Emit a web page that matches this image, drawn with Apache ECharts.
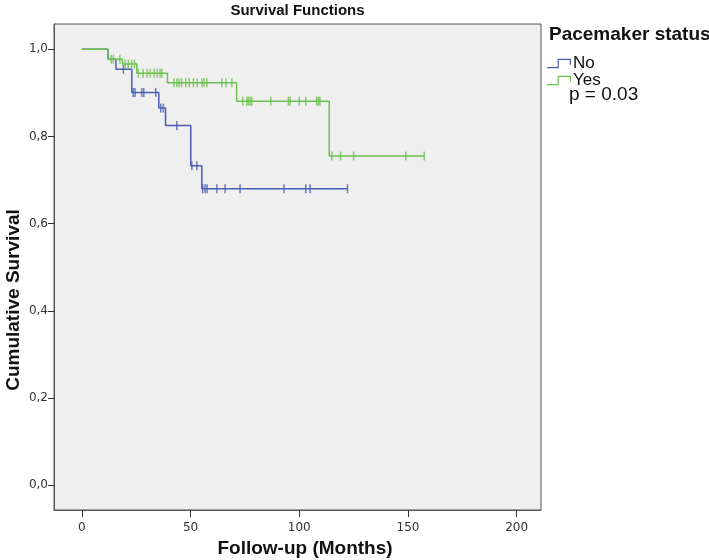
<!DOCTYPE html>
<html><head><meta charset="utf-8">
<script src="https://cdn.jsdelivr.net/npm/echarts@6/dist/echarts.min.js"></script>
<style>html,body{margin:0;padding:0;background:#fff}#c{width:709px;height:560px}</style>
</head><body><div id="c"></div>
<script>
// ---- data ----
const xTicks = [0, 50, 100, 150, 200];
const yTicks = [0, 0.2, 0.4, 0.6, 0.8, 1.0];

// Pacemaker status = No (blue)
const noEventTimes = [0, 12.0, 15.7, 23.0, 35.4, 38.5, 50.1, 55.2];
const noSurvival   = [1, 0.977, 0.954, 0.901, 0.865, 0.825, 0.733, 0.680];
const noCensored   = [19.1, 23.6, 24.5, 27.6, 28.5, 34.0, 36.3, 37.5, 43.7, 50.6, 52.9, 55.6, 56.7, 57.6, 62.1, 65.9, 72.8, 93.0, 103.0, 105.0, 122.2];
const noLastTime   = 122.2;

// Pacemaker status = Yes (green)
const yesEventTimes = [0, 12.0, 18.7, 25.3, 39.4, 71.2, 113.8];
const yesSurvival   = [1, 0.977, 0.966, 0.945, 0.923, 0.881, 0.755];
const yesCensored   = [13.5, 14.5, 17.5, 19.9, 21.4, 22.9, 24.2, 26.0, 28.2, 30.0, 31.4, 33.2, 34.6, 36.0, 36.8,
                       42.4, 43.7, 44.7, 45.9, 47.8, 49.4, 51.3, 53.1, 55.2, 56.2, 57.5, 64.4, 66.3, 69.0,
                       74.0, 75.9, 76.6, 77.4, 78.2, 86.9, 95.0, 95.8, 100.0, 103.0, 108.0, 108.8, 109.5,
                       115.0, 119.0, 125.0, 149.0, 157.5];
const yesLastTime   = 157.5;

const groupNames = ['No', 'Yes'];
const pText = 'p = 0.03';

// ---- helpers ----
function stepData(times, surv, last) {
  const d = times.map((t, i) => [t, surv[i]]);
  d.push([last, surv[surv.length - 1]]);
  return d;
}
function survAt(times, surv, t) {
  let s = surv[0];
  for (let i = 0; i < times.length; i++) if (times[i] <= t) s = surv[i];
  return s;
}
function censorData(times, surv, cens) {
  return cens.map(t => [t, survAt(times, surv, t)]);
}

const BLUE = '#4a5cb3';
const GREEN = '#6cc04e';
const FONT = '"Liberation Sans", Arial, sans-serif';
const TICKFONT = '"DejaVu Sans", sans-serif';
const legendIcon = 'path://M0,8.4 L10.6,8.4 L10.6,0 L24,0 L24,6 L22.8,6 L22.8,1.2 L11.8,1.2 L11.8,9.6 L0,9.6 Z';
const legendBase = {
  orient: 'vertical', left: 542, itemWidth: 24, itemHeight: 10,
  textStyle: {fontFamily: FONT, fontSize: 17, color: '#111', padding: [0, 0, 0, -3]},
  selectedMode: false
};

const chart = echarts.init(document.getElementById('c'), null, {renderer: 'canvas'});
chart.setOption({
  backgroundColor: '#ffffff',
  animation: false,
  grid: {left: 54, right: 168, top: 24, bottom: 50, show: true,
         backgroundColor: '#efefef', borderColor: '#555', borderWidth: 1},
  xAxis: {
    type: 'value', min: -12.8, max: 211.2,
    axisLine: {show: true, onZero: false, lineStyle: {color: '#555', width: 1}},
    axisTick: {show: true, customValues: xTicks, length: 7, lineStyle: {color: '#333'}},
    axisLabel: {customValues: xTicks, fontFamily: TICKFONT, fontSize: 12, color: '#333', margin: 12},
    splitLine: {show: false}
  },
  yAxis: {
    type: 'value', min: -0.057, max: 1.058,
    axisLine: {show: true, onZero: false, lineStyle: {color: '#555', width: 1}},
    axisTick: {show: true, customValues: yTicks, length: 6, lineStyle: {color: '#333'}},
    axisLabel: {customValues: yTicks, fontFamily: TICKFONT, fontSize: 12, color: '#333', margin: 6,
                formatter: v => v.toFixed(1).replace('.', ',')},
    splitLine: {show: false}
  },
  legend: [
    Object.assign({}, legendBase, {data: [{name: groupNames[0], icon: legendIcon}], top: 50}),
    Object.assign({}, legendBase, {data: [{name: groupNames[1], icon: legendIcon}], top: 67})
  ],
  graphic: [
    {type: 'text', x: 297.5, y: 11, style: {text: 'Survival Functions', font: 'bold 15px ' + FONT, fill: '#111', textAlign: 'center', textVerticalAlign: 'middle'}},
    {type: 'text', x: 549, y: 35, style: {text: 'Pacemaker status', font: 'bold 19px ' + FONT, fill: '#111', textAlign: 'left', textVerticalAlign: 'middle'}},
    {type: 'text', x: 569, y: 95, style: {text: pText, font: '19px ' + FONT, fill: '#111', textAlign: 'left', textVerticalAlign: 'middle'}},
    {type: 'text', x: 305, y: 549, style: {text: 'Follow-up (Months)', font: 'bold 19px ' + FONT, fill: '#111', textAlign: 'center', textVerticalAlign: 'middle'}},
    {type: 'text', x: 14, y: 300, rotation: Math.PI / 2, style: {text: 'Cumulative Survival', font: 'bold 19px ' + FONT, fill: '#111', textAlign: 'center', textVerticalAlign: 'middle'}}
  ],
  series: [
    {name: 'No', type: 'line', step: 'end', showSymbol: false, color: BLUE,
     lineStyle: {color: BLUE, width: 1.5}, data: stepData(noEventTimes, noSurvival, noLastTime), z: 3},
    {name: 'Yes', type: 'line', step: 'end', showSymbol: false, color: GREEN,
     lineStyle: {color: GREEN, width: 1.5}, data: stepData(yesEventTimes, yesSurvival, yesLastTime), z: 4},
    {name: 'No censored', type: 'scatter', symbol: 'rect', symbolSize: [1.5, 9], color: BLUE,
     itemStyle: {color: BLUE}, data: censorData(noEventTimes, noSurvival, noCensored), z: 3},
    {name: 'Yes censored', type: 'scatter', symbol: 'rect', symbolSize: [1.5, 9], color: GREEN,
     itemStyle: {color: GREEN}, data: censorData(yesEventTimes, yesSurvival, yesCensored), z: 4}
  ]
});
</script>
</body></html>
